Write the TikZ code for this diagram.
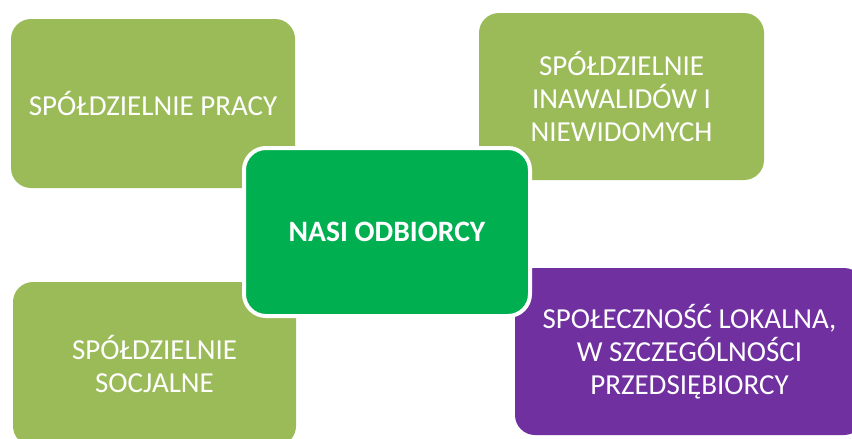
\documentclass[tikz,border=0pt]{standalone}
\usepackage{fontspec}
\setmainfont{Carlito}
\definecolor{boxgreen}{HTML}{9BBB59}
\definecolor{hubgreen}{HTML}{00B050}
\definecolor{boxpurple}{HTML}{7030A0}
\begin{document}
\begin{tikzpicture}[
				x=0.5pt, y=-0.5pt,
				box/.style={rectangle, rounded corners=10pt, fill=boxgreen, text=white, align=center, inner sep=0pt, font=\fontsize{14.5}{16.5}\selectfont},
				hub/.style={box, fill=hubgreen, draw=white, line width=2pt, rounded corners=11pt, font=\fontsize{14.8}{16.5}\selectfont\bfseries}
				]
			\useasboundingbox (0,0) rectangle (852,439);
			\node [box, minimum width=142pt, minimum height=84.5pt] (praca) at (153,103.5) {SPÓŁDZIELNIE PRACY};
			\node [box, minimum width=142.5pt, minimum height=83.5pt] (inwalidzi) at (621.5,96.5) {SPÓŁDZIELNIE\\INAWALIDÓW I\\NIEWIDOMYCH};
			\node [box, minimum width=141.5pt, minimum height=82pt] (socjalne) at (154.5,364) {SPÓŁDZIELNIE\\SOCJALNE};
			\node [box, fill=boxpurple, minimum width=174.5pt, minimum height=83.5pt] (lokalna) at (689.5,351.5) {SPOŁECZNOŚĆ LOKALNA,\\W SZCZEGÓLNOŚCI\\PRZEDSIĘBIORCY};
			\node [hub, minimum width=143pt, minimum height=84pt] (odbiorcy) at (387,232) {NASI ODBIORCY};
			\end{tikzpicture}
\end{document}
